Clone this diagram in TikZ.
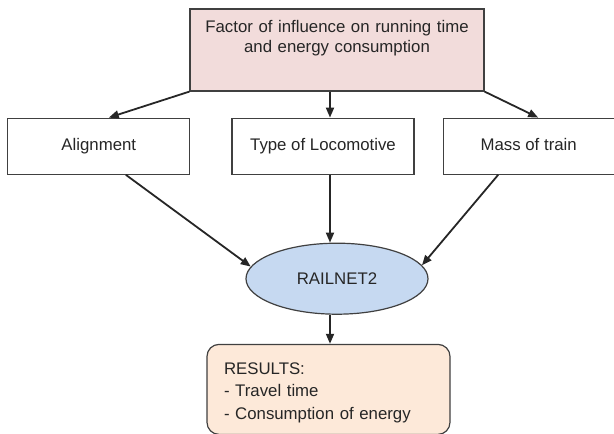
\documentclass[tikz,border=0pt]{standalone}
\usepackage{fontspec}
\setmainfont{Liberation Sans}
\usetikzlibrary{positioning,shapes.geometric,arrows.meta}
\definecolor{factorpink}{HTML}{F2DCDB}
\definecolor{railblue}{HTML}{C6D9F1}
\definecolor{resultpeach}{HTML}{FDE9D9}
\definecolor{edgegray}{HTML}{404040}
\tikzset{every node/.style={font=\fontsize{16.8pt}{20pt}\selectfont, text=black!85},
  >={Triangle[length=10pt,width=8pt]},
  flow/.style={->, line width=1.8pt, draw=black!85},
  factorbox/.style={draw=edgegray, line width=1.2pt, fill=factorpink, text width=280pt, align=center,
    inner xsep=7pt, inner ysep=0pt, text height=23pt, text depth=59pt},
  inputbox/.style={draw=edgegray, line width=1.2pt, fill=white, minimum width=182pt, minimum height=56pt, inner sep=0pt,
    text height=12pt, text depth=4pt},
  modelnode/.style={ellipse, draw=edgegray, line width=1.2pt, fill=railblue, minimum width=182pt, minimum height=71pt, inner sep=0pt},
  resultbox/.style={draw=edgegray, line width=1.2pt, fill=resultpeach, rounded corners=12pt, text width=209pt, align=left,
    inner xsep=17pt, inner ysep=0pt, text height=30pt, text depth=60pt, font=\fontsize{16.8pt}{22.5pt}\selectfont}}
\begin{document}
\begin{tikzpicture}[x=1pt,y=-1pt]
\useasboundingbox (0,0) rectangle (614,434);
\node (top) [factorbox] at (337,50) {Factor of influence on running time\\and energy consumption};
\node (type) [inputbox, below=26pt of top, xshift=-14pt] {Type of Locomotive};
\node (align) [inputbox, left=41pt of type] {Alignment};
\node (mass) [inputbox, right=28pt of type, minimum width=171pt] {Mass of train};
\node (rail) [modelnode, below=151pt of top] {RAILNET2};
\node (results) [resultbox, below=29pt of rail, xshift=-8.5pt] {RESULTS:\\- Travel time\\- Consumption of energy};
\draw[flow] (top.south west) -- ([xshift=10pt]align.north);
\draw[flow] ([xshift=7pt]type.north |- top.south) -- ([xshift=7pt]type.north);
\draw[flow] (top.south east) -- ([xshift=9.5pt]mass.north);
\draw[flow] ([xshift=27pt]align.south) -- (rail.172);
\draw[flow] ([xshift=7pt]type.south) -- ([xshift=7pt]type.south |- rail.north);
\draw[flow] ([xshift=-30.5pt]mass.south) -- (rail.9);
\draw[flow] ([xshift=-7pt]rail.south) -- ([xshift=-7pt]rail.south |- results.north);
\end{tikzpicture}
\end{document}
